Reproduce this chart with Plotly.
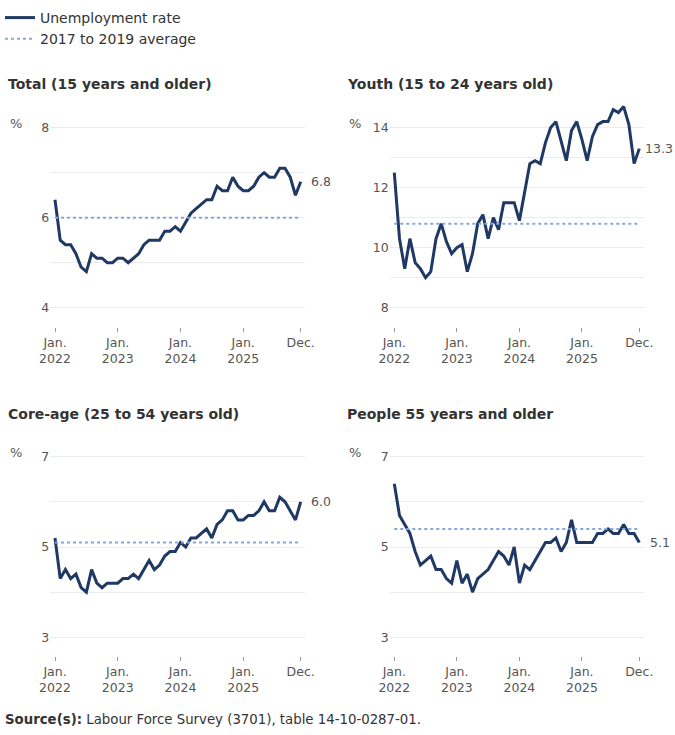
import plotly.graph_objects as go

# ---------------- data ----------------
months = [f"{y}-{m:02d}" for y in range(2022, 2026) for m in range(1, 13)]

total = [6.4, 5.5, 5.4, 5.4, 5.2, 4.9, 4.8, 5.2, 5.1, 5.1, 5.0, 5.0,
         5.1, 5.1, 5.0, 5.1, 5.2, 5.4, 5.5, 5.5, 5.5, 5.7, 5.7, 5.8,
         5.7, 5.9, 6.1, 6.2, 6.3, 6.4, 6.4, 6.7, 6.6, 6.6, 6.9, 6.7,
         6.6, 6.6, 6.7, 6.9, 7.0, 6.9, 6.9, 7.1, 7.1, 6.9, 6.5, 6.8]

youth = [12.5, 10.3, 9.3, 10.3, 9.5, 9.3, 9.0, 9.2, 10.3, 10.8, 10.2, 9.8,
         10.0, 10.1, 9.2, 9.8, 10.8, 11.1, 10.3, 11.0, 10.6, 11.5, 11.5, 11.5,
         10.9, 11.9, 12.8, 12.9, 12.8, 13.5, 14.0, 14.2, 13.5, 12.9, 13.9, 14.2,
         13.6, 12.9, 13.7, 14.1, 14.2, 14.2, 14.6, 14.5, 14.7, 14.1, 12.8, 13.3]

core = [5.2, 4.3, 4.5, 4.3, 4.4, 4.1, 4.0, 4.5, 4.2, 4.1, 4.2, 4.2,
        4.2, 4.3, 4.3, 4.4, 4.3, 4.5, 4.7, 4.5, 4.6, 4.8, 4.9, 4.9,
        5.1, 5.0, 5.2, 5.2, 5.3, 5.4, 5.2, 5.5, 5.6, 5.8, 5.8, 5.6,
        5.6, 5.7, 5.7, 5.8, 6.0, 5.8, 5.8, 6.1, 6.0, 5.8, 5.6, 6.0]

older = [6.4, 5.7, 5.5, 5.3, 4.9, 4.6, 4.7, 4.8, 4.5, 4.5, 4.3, 4.2,
         4.7, 4.2, 4.4, 4.0, 4.3, 4.4, 4.5, 4.7, 4.9, 4.8, 4.6, 5.0,
         4.2, 4.6, 4.5, 4.7, 4.9, 5.1, 5.1, 5.2, 4.9, 5.1, 5.6, 5.1,
         5.1, 5.1, 5.1, 5.3, 5.3, 5.4, 5.3, 5.3, 5.5, 5.3, 5.3, 5.1]

averages = [6.0, 10.8, 5.1, 5.4]

titles = ["Total (15 years and older)", "Youth (15 to 24 years old)",
          "Core-age (25 to 54 years old)", "People 55 years and older"]

x_tickvals = ["2022-01", "2023-01", "2024-01", "2025-01", "2025-12"]
x_ticktext = ["Jan.<br>2022", "Jan.<br>2023", "Jan.<br>2024", "Jan.<br>2025", "Dec."]

y_tickvals = [[4, 5, 6, 7, 8], [8, 9, 10, 11, 12, 13, 14], [3, 4, 5, 6, 7], [3, 4, 5, 6, 7]]
y_ticktext = [["4", "", "6", "", "8"], ["8", "", "10", "", "12", "", "14"],
              ["3", "", "5", "", "7"], ["3", "", "5", "", "7"]]

series = [total, youth, core, older]

# ---------------- style / layout ----------------
W, H = 675, 735
FONT = "DejaVu Sans"
LINE_COLOR = "#1f3864"
AVG_COLOR = "#86a6e0"

def fx(px):
    return px / W

def fy(px):
    return 1 - px / H

x_domains = [[fx(50.3), fx(305.4)], [fx(389.6), fx(644.0)]]
y_domains = [[fy(327), fy(100)], [fy(656), fy(440)]]
y_ranges = [[3.571, 8.616], [7.356, 14.92], [2.587, 7.369], [2.587, 7.369]]
label_shift = [8, 4, 8, 9]

fig = go.Figure()

for i in range(4):
    row, col = divmod(i, 2)
    xa = "x" if i == 0 else f"x{i+1}"
    ya = "y" if i == 0 else f"y{i+1}"
    fig.add_trace(go.Scatter(
        x=months, y=series[i], xaxis=xa, yaxis=ya, mode="lines",
        line=dict(color=LINE_COLOR, width=3),
        name="Unemployment rate", showlegend=(i == 0), legendrank=1))
    fig.add_trace(go.Scatter(
        x=[months[0], months[-1]], y=[averages[i], averages[i]],
        xaxis=xa, yaxis=ya, mode="lines",
        line=dict(color=AVG_COLOR, width=2, dash="dot"),
        name="2017 to 2019 average", showlegend=(i == 0), legendrank=2))

    xkey = "xaxis" if i == 0 else f"xaxis{i+1}"
    ykey = "yaxis" if i == 0 else f"yaxis{i+1}"
    fig.layout[xkey] = dict(
        domain=x_domains[col], anchor=ya, type="category",
        categoryorder="array", categoryarray=months,
        range=[-0.9, 47.9], tickmode="array",
        tickvals=x_tickvals, ticktext=x_ticktext,
        ticks="outside", ticklen=4, tickwidth=1, tickcolor="#999999",
        showgrid=False, showline=False, zeroline=False, automargin=False,
        tickfont=dict(family=FONT, size=12.5, color="#555555"))
    fig.layout[ykey] = dict(
        domain=y_domains[row], anchor=xa, range=y_ranges[i],
        tickmode="array", tickvals=y_tickvals[i], ticktext=y_ticktext[i],
        showgrid=True, gridcolor="#ebebeb", gridwidth=1,
        zeroline=False, showline=False, ticks="", automargin=False,
        tickfont=dict(family=FONT, size=12.5, color="#555555"))

    # subplot title
    fig.add_annotation(
        xref="paper", yref="paper", x=fx(6 if col == 0 else 345),
        y=fy(84 if row == 0 else 414), xanchor="left", yanchor="middle",
        text=f"<b>{titles[i]}</b>", showarrow=False,
        font=dict(family=FONT, size=14, color="#333333"))
    # percent sign
    fig.add_annotation(
        xref="paper", yref="paper", x=fx(16 if col == 0 else 355),
        y=fy(123 if row == 0 else 452), xanchor="center", yanchor="middle",
        text="%", showarrow=False,
        font=dict(family=FONT, size=13, color="#555555"))
    # last value label
    fig.add_annotation(
        xref=xa, yref=ya, x=months[-1], y=series[i][-1],
        xanchor="left", yanchor="middle", xshift=label_shift[i],
        text=f"{series[i][-1]:.1f}", showarrow=False,
        font=dict(family=FONT, size=12.5, color="#555555"))

fig.add_annotation(
    xref="paper", yref="paper", x=fx(3), y=fy(719), xanchor="left", yanchor="middle",
    text="<b>Source(s):</b> Labour Force Survey (3701), table 14-10-0287-01.",
    showarrow=False, font=dict(family=FONT, size=13.3, color="#333333"))

fig.update_layout(
    width=W, height=H, autosize=False, margin=dict(l=0, r=0, t=0, b=0, autoexpand=False),
    paper_bgcolor="white", plot_bgcolor="white",
    font=dict(family=FONT, color="#333333"),
    showlegend=True,
    legend=dict(x=fx(0), y=fy(2), xanchor="left", yanchor="top",
                orientation="v", bgcolor="rgba(0,0,0,0)",
                font=dict(family=FONT, size=14, color="#333333"),
                tracegroupgap=0, itemwidth=30),
)

fig.write_html("out.html", config={"displayModeBar": False},
               post_script="document.body.style.margin='0px';document.body.style.padding='0px';")
